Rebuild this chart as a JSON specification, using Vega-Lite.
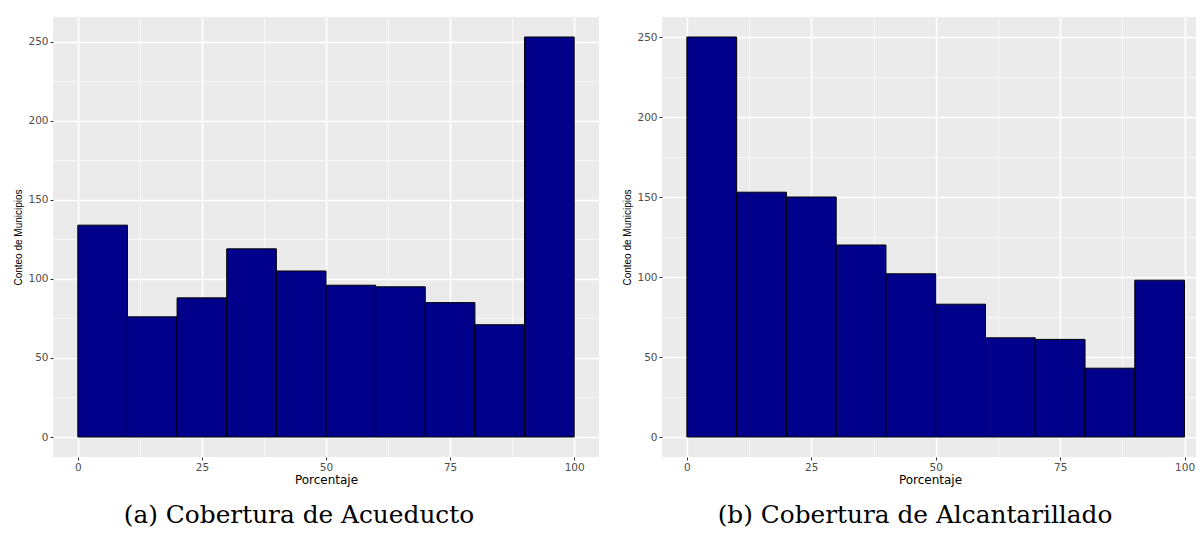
{
  "$schema": "https://vega.github.io/schema/vega-lite/v6.json",
  "padding": {"left": 13, "top": 17, "right": 0, "bottom": 0},
  "autosize": {"type": "pad"},
  "background": "white",
  "spacing": 23,
  "datasets": {
    "acueducto": [
      {"desde": 0, "hasta": 10, "conteo": 134},
      {"desde": 10, "hasta": 20, "conteo": 76},
      {"desde": 20, "hasta": 30, "conteo": 88},
      {"desde": 30, "hasta": 40, "conteo": 119},
      {"desde": 40, "hasta": 50, "conteo": 105},
      {"desde": 50, "hasta": 60, "conteo": 96},
      {"desde": 60, "hasta": 70, "conteo": 95},
      {"desde": 70, "hasta": 80, "conteo": 85},
      {"desde": 80, "hasta": 90, "conteo": 71},
      {"desde": 90, "hasta": 100, "conteo": 253}
    ],
    "alcantarillado": [
      {"desde": 0, "hasta": 10, "conteo": 250},
      {"desde": 10, "hasta": 20, "conteo": 153},
      {"desde": 20, "hasta": 30, "conteo": 150},
      {"desde": 30, "hasta": 40, "conteo": 120},
      {"desde": 40, "hasta": 50, "conteo": 102},
      {"desde": 50, "hasta": 60, "conteo": 83},
      {"desde": 60, "hasta": 70, "conteo": 62},
      {"desde": 70, "hasta": 80, "conteo": 61},
      {"desde": 80, "hasta": 90, "conteo": 43},
      {"desde": 90, "hasta": 100, "conteo": 98}
    ]
  },
  "config": {
    "view": {"fill": "#EBEBEB", "stroke": null},
    "axis": {
      "domain": false,
      "gridColor": "white",
      "tickColor": "#333333",
      "tickSize": 3,
      "tickWidth": 1,
      "labelColor": "#4D4D4D",
      "labelFont": "DejaVu Sans",
      "labelFontSize": 10.5,
      "labelPadding": 2,
      "labelFlush": false,
      "labelOverlap": false,
      "titleColor": "black",
      "titleFontWeight": "normal"
    },
    "axisX": {"titleFont": "DejaVu Sans", "titleFontSize": 12, "titlePadding": 2},
    "axisY": {"titleFont": "Liberation Sans", "titleFontSize": 10, "titlePadding": 4},
    "title": {"font": "DejaVu Serif", "fontSize": 24.8, "fontWeight": "normal", "color": "black", "orient": "bottom", "anchor": "middle", "offset": 17}
  },
  "hconcat": [
    {
      "width": 546,
      "height": 440,
      "data": {"name": "acueducto"},
      "title": {"text": "(a) Cobertura de Acueducto", "dx": -27},
      "mark": {"type": "bar", "fill": "#00008B", "stroke": "black", "strokeWidth": 1},
      "encoding": {
        "x": {
          "field": "desde", "type": "quantitative",
          "scale": {"domain": [-5, 105], "nice": false, "zero": false},
          "axis": {
            "title": "Porcentaje",
            "values": [0, 12.5, 25, 37.5, 50, 62.5, 75, 87.5, 100],
            "labelExpr": "datum.value % 25 === 0 ? datum.label : ''",
            "gridWidth": {"condition": {"test": "datum.value % 25 === 0", "value": 1.5}, "value": 0.6},
            "tickOpacity": {"condition": {"test": "datum.value % 25 === 0", "value": 1}, "value": 0}
          }
        },
        "x2": {"field": "hasta"},
        "y": {
          "field": "conteo", "type": "quantitative",
          "scale": {"domain": [-12.65, 265.65], "nice": false, "zero": false},
          "axis": {
            "title": "Conteo de Municipios",
            "values": [0, 25, 50, 75, 100, 125, 150, 175, 200, 225, 250],
            "labelExpr": "datum.value % 50 === 0 ? datum.label : ''",
            "gridWidth": {"condition": {"test": "datum.value % 50 === 0", "value": 1.5}, "value": 0.6},
            "tickOpacity": {"condition": {"test": "datum.value % 50 === 0", "value": 1}, "value": 0}
          }
        },
        "y2": {"datum": 0}
      }
    },
    {
      "width": 536,
      "height": 440,
      "data": {"name": "alcantarillado"},
      "title": {"text": "(b) Cobertura de Alcantarillado", "dx": -15},
      "mark": {"type": "bar", "fill": "#00008B", "stroke": "black", "strokeWidth": 1},
      "encoding": {
        "x": {
          "field": "desde", "type": "quantitative",
          "scale": {"domain": [-5, 102.7], "nice": false, "zero": false},
          "axis": {
            "title": "Porcentaje",
            "values": [0, 12.5, 25, 37.5, 50, 62.5, 75, 87.5, 100],
            "labelExpr": "datum.value % 25 === 0 ? datum.label : ''",
            "gridWidth": {"condition": {"test": "datum.value % 25 === 0", "value": 1.5}, "value": 0.6},
            "tickOpacity": {"condition": {"test": "datum.value % 25 === 0", "value": 1}, "value": 0}
          }
        },
        "x2": {"field": "hasta"},
        "y": {
          "field": "conteo", "type": "quantitative",
          "scale": {"domain": [-12.5, 262.5], "nice": false, "zero": false},
          "axis": {
            "title": "Conteo de Municipios",
            "values": [0, 25, 50, 75, 100, 125, 150, 175, 200, 225, 250],
            "labelExpr": "datum.value % 50 === 0 ? datum.label : ''",
            "gridWidth": {"condition": {"test": "datum.value % 50 === 0", "value": 1.5}, "value": 0.6},
            "tickOpacity": {"condition": {"test": "datum.value % 50 === 0", "value": 1}, "value": 0}
          }
        },
        "y2": {"datum": 0}
      }
    }
  ]
}
